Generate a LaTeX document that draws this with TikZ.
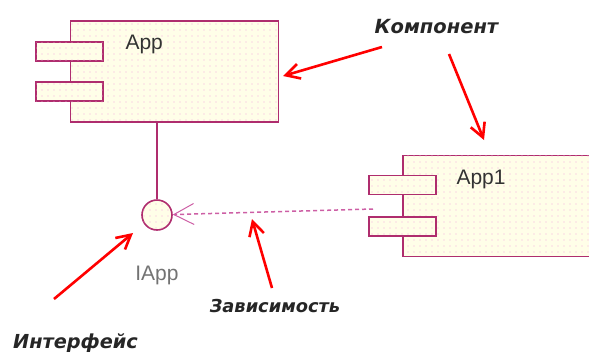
\documentclass[tikz,border=0pt]{standalone}
\usepackage{fontspec}
\setmainfont{Liberation Sans}
\newfontfamily\notefont{DejaVu Sans}
\usetikzlibrary{arrows.meta,positioning,patterns.meta}
\definecolor{umlline}{RGB}{175,45,110}
\definecolor{umlfill}{RGB}{255,254,232}
\definecolor{umldot}{RGB}{245,175,220}
\definecolor{deplink}{RGB}{205,95,165}

\begin{document}
\begin{tikzpicture}[x=1pt,y=-1pt,>={Straight Barb[length=14pt,width=15pt]}]
  \tikzstyle{comp}=[draw=umlline,line width=1.6pt,fill=umlfill,inner sep=0pt,
    postaction={pattern={Dots[distance=6pt,radius=0.6pt]},pattern color=umldot}]
  \tikzstyle{body}=[comp,minimum width=208pt,minimum height=101pt]
  \tikzstyle{plug}=[comp,minimum width=67pt,minimum height=19pt]
  \tikzstyle{note}=[font=\notefont\bfseries\itshape,text=black!85,anchor=base]
  \tikzstyle{pointer}=[red,line width=2.6pt,->]
  \useasboundingbox (0,0) rectangle (589,354);

  % components
  \node[body] (app) at (174.5,71.5) {};
  \node[plug] (appa) at (app.west |- 0,51.5) {};
  \node[plug] (appb) at (app.west |- 0,91.5) {};
  \node[anchor=base west,font=\fontsize{21}{24}\selectfont,text=black!80] (appname) at (122,49) {App};

  \node[body,minimum width=200pt] (app1) at (503,206) {};
  \node[plug] (app1a) at (app1.west |- 0,185) {};
  \node[plug] (app1b) at (app1.west |- 0,226.5) {};
  \node[anchor=base west,font=\fontsize{21}{24}\selectfont,text=black!80] (app1name) at (453,184) {App1};

  % interface
  \node[comp,circle,minimum size=30pt] (iapp) at (157,215) {};
  \node[anchor=base,font=\fontsize{21}{24}\selectfont,text=black!55] (iappname) at (157,280) {IApp};
  \draw[umlline,line width=1.6pt] (iapp.north |- app.south) -- (iapp);

  % dependency
  \coordinate (dep) at (373,209);
  \draw[deplink,line width=1.5pt,dash pattern=on 4pt off 3pt,
    -{Straight Barb[length=20pt,width=21pt,line width=1pt]}] (dep) -- (iapp);

  % notes
  \node[note] (ncomp) at (436.5,33) {\fontsize{19.5}{22}\selectfont Компонент};
  \node[note] (ndep) at (275,312) {\fontsize{17.8}{20}\selectfont Зависимость};
  \node[note] (niface) at (75.5,348) {\fontsize{19.3}{22}\selectfont Интерфейс};
  \coordinate (c1) at (382,47);
  \coordinate (c2) at (449,54);
  \coordinate (d1) at (272,288);
  \coordinate (i1) at (54,299);
  \draw[pointer] (c1) -- (283,76);
  \draw[pointer] (c2) -- (484,140);
  \draw[pointer] (d1) -- (252,219);
  \draw[pointer] (i1) -- (133,233);
\end{tikzpicture}
\end{document}
